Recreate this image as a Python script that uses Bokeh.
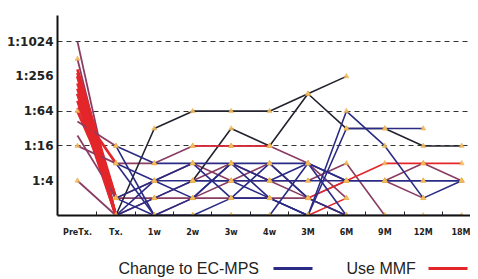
import numpy as np
from bokeh.plotting import figure
from bokeh.models import FixedTicker, ColumnDataSource, Range1d
from bokeh.layouts import column
from bokeh.embed import file_html
from bokeh.resources import INLINE
from bokeh.core.properties import value

# ---------------- data ----------------
time_labels = ["PreTx.", "Tx.", "1w", "2w", "3w", "4w", "3M", "6M", "9M", "12M", "18M"]
titre_ticks = [2, 4, 6, 8, 10]                 # log2 of the titre denominator
titre_labels = ["1:4", "1:16", "1:64", "1:256", "1:1024"]
reference_levels = [4, 6, 10]                  # dashed reference titres

# induction: PreTx -> Tx (log2 titre)
pre_tx_titre = [10, 9, 8.4, 8.2, 8, 7.6, 7.3, 7, 6.6, 6.2, 6, 5.4, 4.6, 4, 2, 8, 7]
tx_titre     = [0,  0, 1,   0,   1, 1,   0,   1, 0,   3,   1, 4,   1,   3, 0, 0, 0]
induction_group = ["mixed", "mixed", "MMF", "MMF", "MMF", "MMF", "MMF", "MMF", "MMF",
                   "MMF", "MMF", "mixed", "mixed", "mixed", "mixed", "MMF", "MMF"]
pre_tx_marked = [False, True, False, False, False, False, False, False, False,
                 False, True, False, False, True, True, False, False]

N = None
# follow-up: Tx, 1w, 2w, 3w, 4w, 3M, 6M, 9M, 12M, 18M
followup_series = [
    ("mixed", [3, 3, 4, 4, 4, 3, 1, N, N, N]),
    ("mixed", [1, 1, 2, 3, 2, 1, 0, N, N, N]),
    ("mixed", [0, 1, 1, 2, 2, 2, 3, 0, N, N]),
    ("mixed", [0, 0, 1, 1, 1, 1, 0, N, N, N]),
    ("mixed", [N, N, N, N, N, N, N, 2, 3, 2]),
    ("mixed", [N, N, N, N, N, N, N, 2, 1, N]),
    ("mixed", [1, 2, 3, 2, 3, 1, 2, N, N, N]),
    ("other", [0, 5, 6, 6, 6, 7, 8, N, N, N]),
    ("other", [N, N, 2, 5, 4, 7, 5, 5, 4, 4]),
    ("MMF",   [N, N, 4, 4, 4, N, N, N, N, N]),
    ("MMF",   [N, N, N, N, N, 1, 2, 3, 3, 3]),
    ("MMF",   [N, N, N, N, N, 0, 1, N, N, N]),
    ("EC-MPS", [0, 0, 0, 0, 0, 0, 0, 0, 0, 0]),
    ("EC-MPS", [4, 3, 3, 3, 3, 3, 2, 2, 2, 2]),
    ("EC-MPS", [3, 2, 2, 2, 2, 2, 2, 2, 2, 2]),
    ("EC-MPS", [4, 0, 0, 1, 1, 0, 6, 4, 1, 2]),
    ("EC-MPS", [1, 2, 1, 3, 1, 0, 5, 5, 5, N]),
    ("EC-MPS", [1, 0, 0, 0, 0, 3, 2, N, N, N]),
    ("EC-MPS", [0, 2, 3, 1, 3, 1, 0, N, N, N]),
    ("EC-MPS", [0, 1, 2, 2, 1, 0, 0, N, N, N]),
    ("EC-MPS", [3, 0, 1, 3, 2, 3, 0, N, N, N]),
]

legend_items = ["Change to EC-MPS", "Use MMF"]

# ---------------- styles ----------------
colours = {"EC-MPS": "#2b2b85", "MMF": "#e3262a", "mixed": "#8a3d62", "other": "#23232f"}
draw_order = ["mixed", "other", "MMF", "EC-MPS"]

p = figure(width=470, height=248, output_backend="svg", toolbar_location=None,
           x_range=Range1d(-0.52, 10.23), y_range=Range1d(0, 11.5),
           min_border_left=57, min_border_right=0, min_border_top=15, min_border_bottom=33)
p.outline_line_color = None
p.background_fill_color = "white"

xs_all = list(range(1, len(time_labels)))

for grp in draw_order:
    for g, vals in followup_series:
        if g != grp:
            continue
        y = np.array([np.nan if v is None else v for v in vals], dtype=float)
        p.line(xs_all, y, line_color=colours[g], line_width=1.6)

ind_src = ColumnDataSource(dict(
    x0=[time_labels.index("PreTx.")] * len(pre_tx_titre),
    x1=[time_labels.index("Tx.")] * len(tx_titre),
    y0=pre_tx_titre, y1=tx_titre,
    c=[colours[g] for g in induction_group],
    w=[2.8 if g == "MMF" else 1.8 for g in induction_group],
))
p.segment("x0", "y0", "x1", "y1", source=ind_src, line_color="c", line_width="w")

# markers
mx, my = [], []
for g, vals in followup_series:
    for xi, v in zip(xs_all, vals):
        if v is not None:
            mx.append(xi); my.append(v)
for v, m in zip(pre_tx_titre, pre_tx_marked):
    if m:
        mx.append(time_labels.index("PreTx.")); my.append(v)
p.scatter(mx, my, marker="triangle", size=5, fill_color="#f2bf63",
          line_color="#e8a940", line_width=0.5, fill_alpha=0.9)

# axes
p.xaxis.ticker = FixedTicker(ticks=list(range(len(time_labels))),
                             minor_ticks=[i + 0.5 for i in range(len(time_labels) - 1)])
p.xaxis.major_label_overrides = {i: t for i, t in enumerate(time_labels)}
p.xaxis.major_tick_in = 0
p.xaxis.major_tick_out = 0
p.xaxis.minor_tick_in = 4
p.xaxis.minor_tick_out = 0
p.xaxis.minor_tick_line_color = "#222222"
p.xaxis.axis_line_width = 2
p.xaxis.axis_line_color = "#111111"
p.xaxis.major_label_standoff = 12
p.xaxis.major_label_text_font = "DejaVu Sans"
p.xaxis.major_label_text_font_style = "bold"
p.xaxis.major_label_text_font_size = "8px"
p.xaxis.major_label_text_color = "#222222"

p.yaxis.ticker = FixedTicker(ticks=titre_ticks, minor_ticks=[])
p.yaxis.major_label_overrides = {t: l for t, l in zip(titre_ticks, titre_labels)}
p.yaxis.major_tick_in = 0
p.yaxis.major_tick_out = 0
p.yaxis.minor_tick_in = 0
p.yaxis.minor_tick_out = 0
p.yaxis.axis_line_width = 2
p.yaxis.axis_line_color = "#111111"
p.yaxis.major_label_standoff = 4
p.yaxis.major_label_text_font = "DejaVu Sans"
p.yaxis.major_label_text_font_style = "bold"
p.yaxis.major_label_text_font_size = "12px"
p.yaxis.major_label_text_color = "#222222"

p.xgrid.grid_line_color = None
p.ygrid.ticker = FixedTicker(ticks=reference_levels, minor_ticks=[])
p.ygrid.grid_line_color = "#333333"
p.ygrid.grid_line_dash = "5 4"
p.ygrid.grid_line_width = 1

# legend strip (label followed by line sample); frame aligned with main plot,
# x range expressed in page pixels
lg = figure(width=470, height=31, output_backend="svg", toolbar_location=None,
            x_range=Range1d(57, 470), y_range=Range1d(0, 31),
            x_axis_type=None, y_axis_type=None,
            min_border_left=57, min_border_right=0, min_border_top=0, min_border_bottom=0)
lg.outline_line_color = None
lg.grid.visible = False
lg.text(x=[118, 346], y=[11, 11], text=legend_items, text_font=value("Liberation Sans"),
        text_font_size="16px", text_baseline="middle", text_color="#222222")
lg.segment(x0=[273, 428], y0=[11, 11], x1=[312, 467], y1=[11, 11],
           line_color=[colours["EC-MPS"], colours["MMF"]], line_width=3)

layout = column(p, lg, spacing=0)
open("out.html", "w").write(file_html(layout, INLINE))
